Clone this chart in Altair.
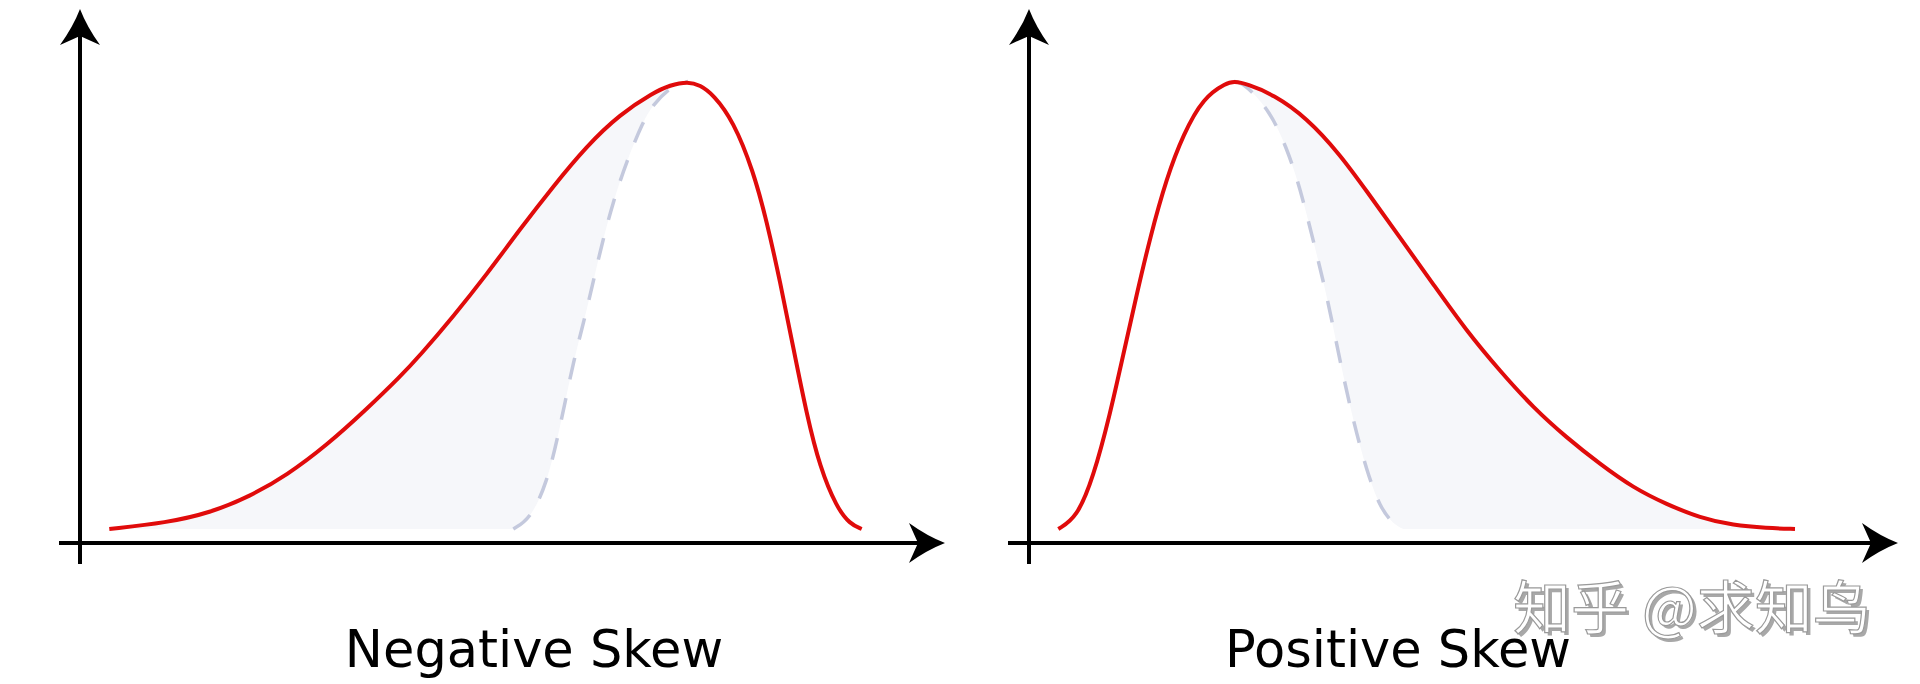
import altair as alt
import pandas as pd

# ---- values (x: position along the axis, y: density, peak = 1) ----
neg_red_x = [0.293, 0.867, 1.30, 1.70, 2.067, 2.467, 2.867, 3.20, 3.40, 3.733, 4.067, 4.40, 4.733,
             5.067, 5.40, 5.733, 5.90, 6.08, 6.20, 6.333, 6.533, 6.733, 6.867, 7.00, 7.133, 7.267,
             7.40, 7.567, 7.70, 7.817]
neg_red_y = [0.0, 0.014, 0.036, 0.073, 0.120, 0.187, 0.268, 0.340, 0.388, 0.475, 0.569, 0.670, 0.766,
             0.856, 0.927, 0.975, 0.992, 1.0, 0.992, 0.971, 0.912, 0.800, 0.688, 0.554, 0.405, 0.256,
             0.137, 0.048, 0.011, 0.0]
neg_ref_x = [4.333, 4.50, 4.667, 4.80, 4.933, 5.067, 5.20, 5.333, 5.467, 5.633, 5.733, 5.90, 6.02, 6.08]
neg_ref_y = [0.0, 0.022, 0.100, 0.226, 0.375, 0.487, 0.621, 0.733, 0.822, 0.912, 0.949, 0.986, 0.998, 1.0]

pos_red_x = [0.293, 0.477, 0.643, 0.81, 0.943, 1.077, 1.21, 1.377, 1.543, 1.743, 1.977, 2.05, 2.177,
             2.443, 2.777, 3.11, 3.377, 3.71, 4.043, 4.377, 4.71, 5.043, 5.377, 5.71, 6.043, 6.377,
             6.71, 7.043, 7.377, 7.66]
pos_red_y = [0.0, 0.025, 0.115, 0.256, 0.390, 0.524, 0.651, 0.785, 0.882, 0.964, 0.997, 1.0, 0.995,
             0.971, 0.919, 0.837, 0.755, 0.651, 0.547, 0.442, 0.353, 0.271, 0.204, 0.145, 0.092, 0.055,
             0.025, 0.008, 0.002, 0.0]
pos_ref_x = [2.05, 2.09, 2.177, 2.41, 2.577, 2.71, 2.843, 2.977, 3.11, 3.243, 3.377, 3.51, 3.643, 3.743]
pos_ref_y = [1.0, 0.999, 0.99, 0.934, 0.852, 0.763, 0.644, 0.524, 0.375, 0.241, 0.130, 0.048, 0.011, 0.0]

panel_titles = ["Negative Skew", "Positive Skew"]
peak_x = [6.08, 2.05]
watermark = "知乎 @求知鸟"

# ---- layout / style ----
X_DOMAIN = [-0.72, 8.77]
Y_DOMAIN = [-0.3486, 1.162]
PANEL_W, PANEL_H = 949, 676
RED = "#e00b0b"
REF = "#c4c9dd"
FILL = "#f6f7fa"
AXIS_Y = -0.0313
INTERP = "basis"
ARROW_RIGHT = "M 0.9 0 Q 0 -0.35 -0.9 -1 L -0.45 0 L -0.9 1 Q 0 0.35 0.9 0 Z"
ARROW_UP = "M 0 -0.9 Q -0.35 0 -1 0.9 L 0 0.45 L 1 0.9 Q 0.35 0 0 -0.9 Z"

xs = alt.Scale(domain=X_DOMAIN, nice=False, zero=False)
ys = alt.Scale(domain=Y_DOMAIN, nice=False, zero=False)


def X(f="x"):
    return alt.X(f"{f}:Q", scale=xs, axis=None)


def Y(f="y"):
    return alt.Y(f"{f}:Q", scale=ys, axis=None)


def panel(red_x, red_y, ref_x, ref_y, peak, left_side, title, title_x, axis_end, arrow_x, extra=None):
    red = alt.Chart(pd.DataFrame({"x": red_x, "y": red_y}))
    ref = alt.Chart(pd.DataFrame({"x": ref_x, "y": ref_y}))
    cond = (alt.datum.x <= peak) if left_side else (alt.datum.x >= peak)

    fill = red.transform_filter(cond).mark_area(color=FILL, interpolate=INTERP).encode(
        x=X(), y=Y(), y2=alt.datum(0))
    blank = ref.mark_area(color="white", interpolate=INTERP).encode(x=X(), y=Y(), y2=alt.datum(0))
    ref_line = ref.mark_line(color=REF, strokeWidth=3.5, strokeDash=[22, 19],
                             interpolate=INTERP).encode(x=X(), y=Y())
    red_line = red.mark_line(color=RED, strokeWidth=4, interpolate=INTERP).encode(x=X(), y=Y())

    axes_df = pd.DataFrame({"x": [-0.21, 0.0], "x2": [axis_end, 0.0],
                            "y": [AXIS_Y, -0.078], "y2": [AXIS_Y, 1.11]})
    axes = alt.Chart(axes_df).mark_rule(color="black", strokeWidth=4).encode(
        x=X(), x2="x2:Q", y=Y(), y2="y2:Q")

    head_x = alt.Chart(pd.DataFrame({"x": [arrow_x], "y": [AXIS_Y]})).mark_point(
        shape=ARROW_RIGHT, filled=True, size=1600, color="black", opacity=1, strokeWidth=0
    ).encode(x=X(), y=Y())
    head_y = alt.Chart(pd.DataFrame({"x": [0.0], "y": [1.122]})).mark_point(
        shape=ARROW_UP, filled=True, size=1600, color="black", opacity=1, strokeWidth=0
    ).encode(x=X(), y=Y())

    label = alt.Chart(pd.DataFrame({"x": [title_x], "y": [-0.308], "t": [title]})).mark_text(
        font="DejaVu Sans", fontSize=51, align="center", baseline="alphabetic", color="black"
    ).encode(x=X(), y=Y(), text="t:N")

    layers = [fill, blank, ref_line, red_line, axes, head_x, head_y, label]
    if extra is not None:
        layers += extra
    return alt.layer(*layers).properties(width=PANEL_W, height=PANEL_H)


wm_df = pd.DataFrame({"x": [4.84], "y": [-0.2235], "t": [watermark]})
wm_shadow = alt.Chart(wm_df).mark_text(
    font="Noto Sans CJK SC", fontSize=58, align="left", baseline="alphabetic",
    color="#a8a8a8", dx=3, dy=3
).encode(x=X(), y=Y(), text="t:N")
wm_front = alt.Chart(wm_df).mark_text(
    font="Noto Sans CJK SC", fontSize=58, align="left", baseline="alphabetic",
    fill="white", stroke="#9a9a9a", strokeWidth=1.2
).encode(x=X(), y=Y(), text="t:N")

left = panel(neg_red_x, neg_red_y, neg_ref_x, neg_ref_y, peak_x[0], True,
             panel_titles[0], 4.54, 8.45, 8.47)
right = panel(pos_red_x, pos_red_y, pos_ref_x, pos_ref_y, peak_x[1], False,
              panel_titles[1], 3.69, 8.50, 8.51, extra=[wm_shadow, wm_front])

chart = alt.hconcat(left, right, spacing=0).properties(
    padding=0, background="white"
).configure_view(stroke=None)

chart.save("out.html", embed_options={"renderer": "svg", "actions": False})
